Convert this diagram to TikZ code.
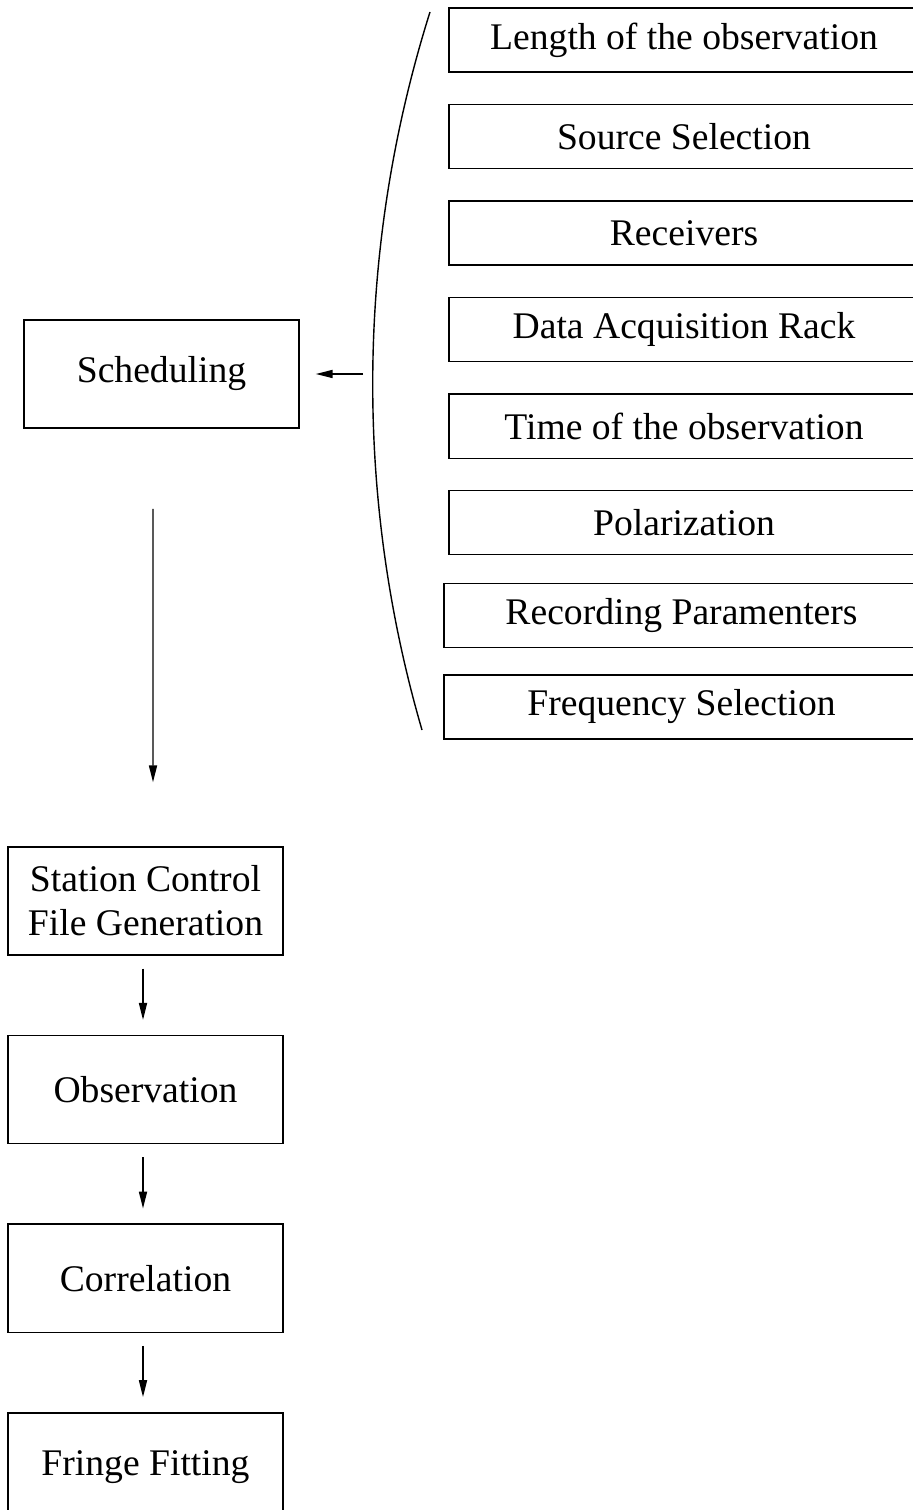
\documentclass[tikz,border=0pt]{standalone}
\usepackage{fontspec}
\setmainfont{Liberation Serif}
\tikzstyle{every node}+=[font=\fontsize{10.7}{12.5}\selectfont]
\tikzstyle{every path}+=[line width=0.4pt]
\tikzstyle{stage}=[draw,minimum width=2.75cm,minimum height=1.08cm,align=center,inner sep=0pt]
\tikzstyle{param}=[draw,minimum width=4.7cm,minimum height=0.64cm,inner sep=0pt]
\tikzstyle{arr}=[-{Triangle[length=4.8pt,width=2.3pt]}]
\usetikzlibrary{arrows.meta,positioning}

\begin{document}
\begin{tikzpicture}[x=0.01cm,y=-0.01cm]
\useasboundingbox (0,0) rectangle (912,1510);

% observation parameters
\begin{scope}[node distance=0.965cm]
\node[param] (len) at (684,40) {Length of the observation};
\node[param, below of=len] (src) {Source Selection};
\node[param, below of=src] (rcv) {Receivers};
\node[param, below of=rcv] (dar) {Data Acquisition Rack};
\node[param, below of=dar] (tim) {Time of the observation};
\node[param, below of=tim] (pol) {Polarization};
\end{scope}

\begin{scope}[node distance=0.925cm]
\node[param, minimum width=4.75cm, below of=pol, xshift=-0.025cm] (rec) {Recording Paramenters};
\node[param, minimum width=4.75cm, below of=rec, node distance=0.915cm] (frq) {Frequency Selection};
\end{scope}

% processing chain
\node[stage] (sched) at (161.5,374) {Scheduling};

\begin{scope}[node distance=1.885cm]
\node[stage] (station) at (145.5,901) {Station Control\\File Generation};
\node[stage, below of=station] (obs) {Observation};
\node[stage, below of=obs] (corr) {Correlation};
\node[stage, below of=corr] (fringe) {Fringe Fitting};
\end{scope}

\coordinate (bt) at (430,12);
\coordinate (bb) at (422,730);
\coordinate (bm) at (363,374);

\draw (bt) .. controls (355,250) and (355,500) .. (bb);
\draw[arr, shorten >=0.16cm] (bm) -- (sched);

\draw[arr] ([xshift=-0.085cm,yshift=-0.8cm]sched.south) -- ([xshift=0.075cm,yshift=0.64cm]station.north);

\foreach \a/\b in {station/obs,obs/corr,corr/fringe}
  \draw[arr, shorten <=0.13cm, shorten >=0.15cm] ([xshift=-0.025cm]\a.south) -- ([xshift=-0.025cm]\b.north);
\end{tikzpicture}
\end{document}
